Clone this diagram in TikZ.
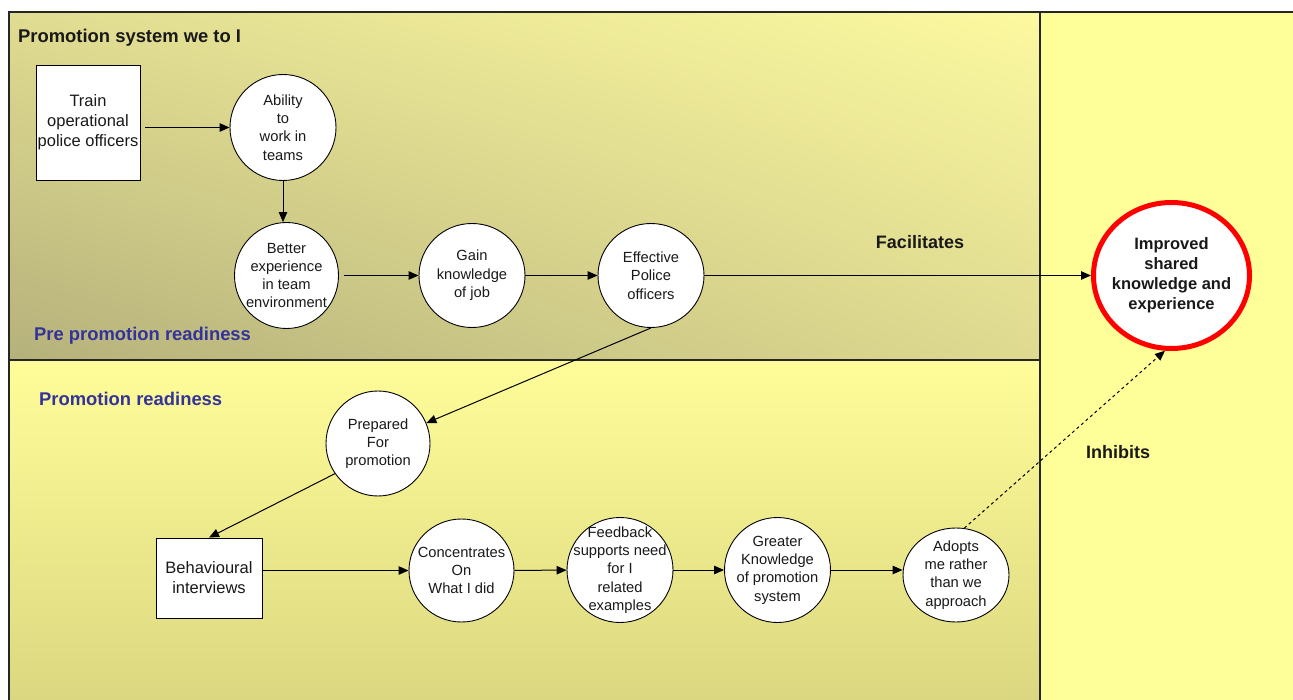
\documentclass[tikz,border=0pt]{standalone}
\usepackage{fontspec}
\setmainfont{Liberation Sans}
\usetikzlibrary{arrows.meta,shapes.geometric,shadings}

\definecolor{lanetext}{HTML}{333399}
\definecolor{stripyellow}{HTML}{FFFF99}
\definecolor{ringred}{HTML}{FF0000}
\definecolor{topUL}{RGB}{224,220,145}
\definecolor{topUR}{RGB}{252,249,160}
\definecolor{topLL}{RGB}{181,177,123}
\definecolor{topLR}{RGB}{222,218,144}
\definecolor{lowTop}{RGB}{255,253,153}
\definecolor{lowBot}{RGB}{218,214,128}

\tikzset{
  frame/.style={draw=black!85, line width=1.2pt},
  bubble/.style={draw=black, line width=0.9pt, fill=white, ellipse,
    minimum width=106pt, minimum height=106pt, inner sep=0pt},
  bubtext/.style={align=center, text=black!90, font=\fontsize{14.7}{18.3}\selectfont},
  stepbox/.style={draw=black, line width=0.9pt, fill=white, inner sep=0pt,
    align=center, text=black!90, font=\fontsize{16.5}{20}\selectfont},
  lanelabel/.style={anchor=west, inner sep=0pt, font=\bfseries\fontsize{18.4}{22}\selectfont},
  flowlabel/.style={font=\bfseries\fontsize{18}{22}\selectfont, text=black!90},
  arr/.style={-{Triangle[length=10pt,width=8.5pt]}, line width=1pt},
}

\begin{document}
\begin{tikzpicture}[x=1pt,y=-1pt]
\useasboundingbox (0,0) rectangle (1293,700);
\clip (0,0) rectangle (1293,700);
\fill[white] (0,0) rectangle (1293,700);

% lanes
\fill[stripyellow] (1040,12) rectangle (1300,710);
\shade[upper left=topUL, upper right=topUR, lower left=topLL, lower right=topLR]
  (9,12) rectangle (1040,360);
\shade[top color=lowTop, bottom color=lowBot]
  (9,360) rectangle (1040,710);

% lane borders
\draw[frame] (9,710) -- (9,12) -- (1300,12);
\draw[frame] (1040,12) -- (1040,710);
\draw[frame] (9,360) -- (1040,360);

% lane titles
\node[lanelabel, text=black!90] (title) at (18,38) {Promotion system we to I};
\node[lanelabel, text=lanetext] (prelane) at (34,336) {Pre promotion readiness};
\node[lanelabel, text=lanetext] (lane) at (39,399) {Promotion readiness};

% upper chain
\node[stepbox, minimum width=104pt, minimum height=115pt] (train) at (88,122.5)
  {Train\\operational\\police officers};
\node[bubble, label={[bubtext]center:{Ability\\to\\work in\\teams}}] (ab) at (283,127.5) {};
\node[bubble, minimum width=104pt, label={[bubtext]center:{Better\\experience\\in team\\environment}}] (bet) at (286.5,275.5) {};
\node[bubble, minimum height=104pt, label={[bubtext]center:{Gain\\knowledge\\of job}}] (gain) at (472,275.5) {};
\node[bubble, minimum height=104pt, label={[bubtext]center:{Effective\\Police\\officers}}] (eff) at (651,275.5) {};

% goal
\node[ellipse, draw=ringred, line width=5pt, fill=white, inner sep=0pt,
      minimum width=156pt, minimum height=146pt,
      label={[align=center, text=black!90, font=\bfseries\fontsize{16.5}{20}\selectfont]center:{Improved\\shared\\knowledge and\\experience}}]
  (imp) at (1171.5,275.5) {};

% lower chain
\node[bubble, minimum width=104pt, minimum height=105pt, label={[bubtext]center:{Prepared\\For\\promotion}}] (prep) at (378,443.5) {};
\node[stepbox, minimum width=106pt, minimum height=80pt] (beh) at (209,578) {Behavioural\\interviews};
\node[bubble, minimum width=105pt, minimum height=103pt, label={[bubtext]center:{Concentrates\\On\\What I did}}] (conc) at (461.5,570.5) {};
\node[bubble, minimum height=105pt, label={[bubtext]center:{Feedback\\supports need\\for I\\related\\examples}}] (feed) at (620,570) {};
\node[bubble, minimum height=105pt, label={[bubtext]center:{Greater\\Knowledge\\of promotion\\system}}] (great) at (777.5,570) {};
\node[bubble, minimum width=106pt, minimum height=94pt, label={[bubtext]center:{Adopts\\me rather\\than we\\approach}}] (adopt) at (956,575) {};

% connectors
\draw[arr, shorten <=5pt] (train.east |- ab.west) -- (ab.west);
\draw[arr] (ab.south) -- (ab.south |- bet.north);
\draw[arr, shorten <=5pt] (bet) -- (gain);
\draw[arr] (gain) -- (eff);
\draw[arr] (eff) -- (imp);
\draw[arr] (eff.south) -- (prep);
\draw[arr] (prep.215) -- (beh.north);
\draw[arr] (beh.east |- conc.west) -- (conc.west);
\draw[arr] (conc) -- (feed);
\draw[arr] (feed) -- (great);
\draw[arr] (great.east) -- (adopt.west |- great.east);
\draw[arr, dashed] (adopt.80) -- (imp.265);

% connector labels
\node[flowlabel] (facil) at (920,242) {Facilitates};
\node[flowlabel] (inhib) at (1118,452) {Inhibits};
\end{tikzpicture}
\end{document}
